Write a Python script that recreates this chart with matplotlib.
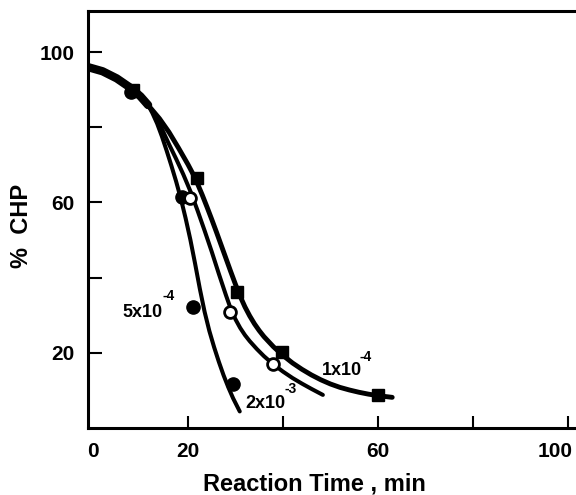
import matplotlib.pyplot as plt
from matplotlib.transforms import ScaledTranslation

plt.rcParams["font.family"] = ["Liberation Sans", "DejaVu Sans"]
plt.rcParams["font.weight"] = "bold"

# measured points (reaction time in min, % CHP)
sq_t = [8.4, 21.9, 30.3, 39.8, 60.0]
sq_y = [89.9, 66.5, 36.3, 20.1, 8.9]
open_t = [20.4, 28.8, 37.9]
open_y = [61.2, 30.9, 16.9]
fill_t = [8.1, 18.7, 21.1, 29.5]
fill_y = [89.3, 61.5, 32.3, 11.6]

# fitted curves, all three share the early part
start_t = [-1.05, 2.0, 5.0, 8.0, 10.0, 11.6]
start_y = [96.0, 94.9, 93.0, 90.4, 88.2, 85.9]

sq_curve_t = start_t + [14, 16, 18, 20, 21, 22, 23, 24, 25, 26, 27, 28, 29, 30,
                        31, 32, 33, 34, 35, 36, 38, 40, 42, 44, 46, 48, 50,
                        52, 54, 56, 58, 60, 62, 63]
sq_curve_y = start_y + [82.3, 78.7, 74.5, 70.1, 67.7, 65.0, 62.0, 58.8, 55.5,
                        52.1, 48.6, 45.1, 41.6, 38.2, 35.0, 32.2, 29.8, 27.7,
                        25.9, 24.3, 21.6, 19.3, 17.3, 15.6, 14.1, 12.8, 11.7,
                        10.8, 10.1, 9.5, 9.0, 8.6, 8.3, 8.15]

open_curve_t = start_t + [13, 14.5, 16, 17.5, 19, 20.5, 22, 23.5, 25, 26.5, 28,
                          29, 30, 31, 32, 33, 34.5, 36, 38, 40, 42, 44, 46, 48.4]
open_curve_y = start_y + [83.3, 79.6, 75.5, 71.6, 67.5, 63.0, 57.9, 52.5, 46.9,
                          41.0, 35.3, 31.7, 28.9, 26.6, 24.7, 23.1, 21.0, 19.1,
                          16.9, 15.0, 13.3, 11.8, 10.4, 8.8]

fill_curve_t = start_t + [12.5, 13.5, 14.5, 15.5, 16.5, 17.5, 18.5, 19.5, 20.5,
                          21.5, 22.5, 23.5, 24.5, 25.5, 26.5, 27.5, 28.5, 29.5,
                          30.9]
fill_curve_y = start_y + [83.8, 81.0, 77.6, 73.8, 69.8, 65.6, 61.0, 55.8, 50.1,
                          43.7, 37.0, 30.9, 25.8, 21.5, 17.6, 14.0, 10.8, 7.9,
                          4.4]

fig = plt.figure(figsize=(5.76, 4.95), dpi=100)
ax = fig.add_axes([0.1528, 0.1354, 0.8472, 0.8414])

line_kw = dict(color="black", solid_capstyle="round", solid_joinstyle="round")
ax.plot(start_t, start_y, lw=6.0, **line_kw)
ax.plot(sq_curve_t, sq_curve_y, lw=3.5, **line_kw)
ax.plot(open_curve_t, open_curve_y, lw=2.9, **line_kw)
ax.plot(fill_curve_t, fill_curve_y, lw=2.9, **line_kw)

ax.plot(fill_t, fill_y, "o", color="black", ms=9.5, zorder=4)
ax.plot(open_t, open_y, "o", mfc="white", mec="black", mew=2.0, ms=8.5, zorder=4)
ax.plot(sq_t, sq_y, "s", color="black", ms=8.5, zorder=5)

# concentration labels
ax.text(6.3, 29.6, "5x10", fontsize=13, fontweight="bold")
ax.text(14.7, 34.1, "-4", fontsize=10, fontweight="bold")
ax.text(32.0, 5.4, "2x10", fontsize=13, fontweight="bold")
ax.text(40.4, 9.4, "-3", fontsize=10, fontweight="bold")
ax.text(48.2, 14.2, "1x10", fontsize=13, fontweight="bold")
ax.text(56.2, 17.7, "-4", fontsize=10, fontweight="bold")

ax.set_xlim(-1.05, 101.7)
ax.set_ylim(0, 110.8)

ax.set_xticks([0, 20, 40, 60, 80, 100])
ax.set_xticklabels(["0", "20", "", "60", "", "100"])
ax.set_yticks([20, 40, 60, 80, 100])
ax.set_yticklabels(["20", "", "60", "", "100"])
ax.xaxis.get_major_ticks()[0].tick1line.set_visible(False)

ax.tick_params(axis="x", direction="in", length=9, width=1.5, pad=10,
               labelsize=15)
ax.tick_params(axis="y", direction="in", length=10, width=1.5, pad=9.5,
               labelsize=15)
for lab in ax.get_xticklabels() + ax.get_yticklabels():
    lab.set_fontweight("bold")

# keep the last x label inside the figure edge
last = ax.get_xticklabels()[-1]
last.set_horizontalalignment("right")
last.set_transform(last.get_transform()
                   + ScaledTranslation(0.05, 0, fig.dpi_scale_trans))

ax.spines["right"].set_visible(False)
for side in ["left", "bottom", "top"]:
    ax.spines[side].set_linewidth(2.2)

ax.set_xlabel("Reaction Time , min", fontsize=17, fontweight="bold")
ax.set_ylabel("%  CHP", fontsize=17, fontweight="bold")
ax.xaxis.set_label_coords(0.465, -0.108)
ax.yaxis.set_label_coords(-0.113, 0.486)

fig.savefig("out.png", dpi=100)
plt.close(fig)
